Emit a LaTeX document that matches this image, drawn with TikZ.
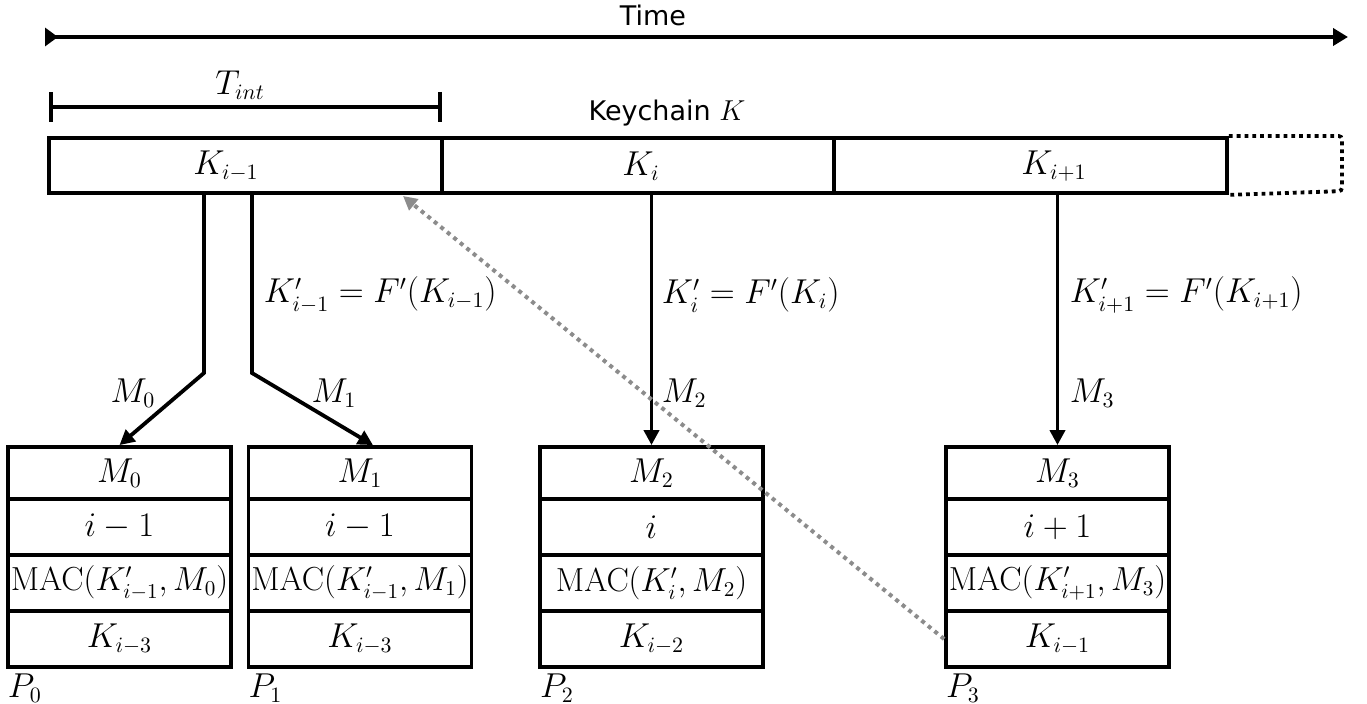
\documentclass[tikz,border=0pt]{standalone}
\usepackage[no-math]{fontspec}
\usepackage{graphicx}
\newfontfamily\labelfont{DejaVu Sans}
\usetikzlibrary{arrows.meta}

\begin{document}
\begin{tikzpicture}[x=0.5pt, y=-0.5pt, line width=1.9pt,
  mth/.style={font=\fontsize{16}{19}\selectfont, inner sep=0pt},
  sanslabel/.style={font=\labelfont\fontsize{13.5}{16}\selectfont, inner sep=0pt},
  keyslot/.style={draw, minimum width=196.5pt, minimum height=27.5pt, inner sep=0pt},
  field/.style={draw, minimum width=111.5pt, inner sep=0pt, mth},
  flow/.style={-{Triangle[length=7.5pt,width=7.5pt]}},
  disclose/.style={draw=black!45, line width=2pt, dash pattern=on 2pt off 2.2pt,
    -{Triangle[length=7pt,width=7pt,fill=black!45]}}
]
\useasboundingbox (0,0) rectangle (1367,704);

% time axis
\coordinate (tstart) at (45,37);
\coordinate (tend) at (1348,37);
\draw[{Triangle[reversed,length=6.5pt,width=9pt]}-{Triangle[length=7.5pt,width=8.5pt]}] (tstart) -- (tend);
\node[sanslabel] (time) at (653,15) {Time};

% one key interval
\coordinate (ta) at (49,107);
\coordinate (tb) at (442,107);
\draw[{Bar[width=15pt]}-{Bar[width=15pt]}] (ta) -- (tb);
\node[mth] (tint) at (240,85) {$T_{int}$};

% keychain
\node[sanslabel] (kc) at (667,113) {Keychain $K$};
\node[keyslot] (Km1) at (245.5,165.5) {};
\node[keyslot] (Ki)  at (638,165.5) {};
\node[keyslot] (Kp1) at (1030.5,165.5) {};
\node[mth] (lKm1) at (226,166) {$K_{i-1}$};
\node[mth] (lKi)  at (641,166) {$K_{i}$};
\node[mth] (lKp1) at (1054,166) {$K_{i+1}$};
\draw[dotted, rounded corners=1.5pt] (Kp1.north east) -- ++(113,0) -- ++(0,55) -- (Kp1.south east);

% packets: four fields each, text centred on a fixed-width box
\foreach \n/\cx/\ta/\tb/\tc/\td in {
  0/119.5/{M_0}/{i-1}/{\mathrm{MAC}(K'_{i-1},M_0)}/{K_{i-3}},
  1/360/{M_1}/{i-1}/{\mathrm{MAC}(K'_{i-1},M_1)}/{K_{i-3}},
  2/651.5/{M_2}/{i}/{\mathrm{MAC}(K'_{i},M_2)}/{K_{i-2}},
  3/1057.5/{M_3}/{i+1}/{\mathrm{MAC}(K'_{i+1},M_3)}/{K_{i-1}}} {
  \node[field, minimum height=26pt] (P\n-1) at (\cx,473) {\makebox[0pt]{$\ta$}};
  \node[field, minimum height=28pt] (P\n-2) at (\cx,527) {\makebox[0pt]{$\tb$}};
  \node[field, minimum height=28pt] (P\n-3) at (\cx,583) {\makebox[0pt]{\scalebox{0.965}{$\tc$}}};
  \node[field, minimum height=28pt] (P\n-4) at (\cx,639) {\makebox[0pt]{$\td$}};
  \node[mth, anchor=north west] (name\n) at ([yshift=-1.5pt]P\n-4.south west) {$P_{\n}$};
}

% key derivation and packet flows
\coordinate (b0) at (204,373);
\coordinate (b1) at (252,373);
\draw[flow] (Km1.south -| b0) -- (b0) -- (P0-1.north);
\draw[flow] (Km1.south -| b1) -- (b1) -- ([xshift=6.5pt]P1-1.north);
\draw[flow] (Ki.south -| P2-1.north) -- (P2-1.north);
\draw[flow] (Kp1.south -| P3-1.north) -- (P3-1.north);

\node[mth, anchor=west] (fm1) at (262,295) {$K'_{i-1} = F'(K_{i-1})$};
\node[mth, anchor=west] (fi)  at (660,295) {$K'_{i} = F'(K_{i})$};
\node[mth, anchor=west] (fp1) at (1068,295) {$K'_{i+1} = F'(K_{i+1})$};

\node[mth] (m0) at (133,393) {$M_0$};
\node[mth] (m1) at (334,393) {$M_1$};
\node[mth, anchor=west] (m2) at (660,393) {$M_2$};
\node[mth, anchor=west] (m3) at (1068,393) {$M_3$};

% disclosed key points back to its interval
\coordinate (kref) at (403,196);
\draw[disclose] (P3-4.west) -- (kref);
\end{tikzpicture}
\end{document}
